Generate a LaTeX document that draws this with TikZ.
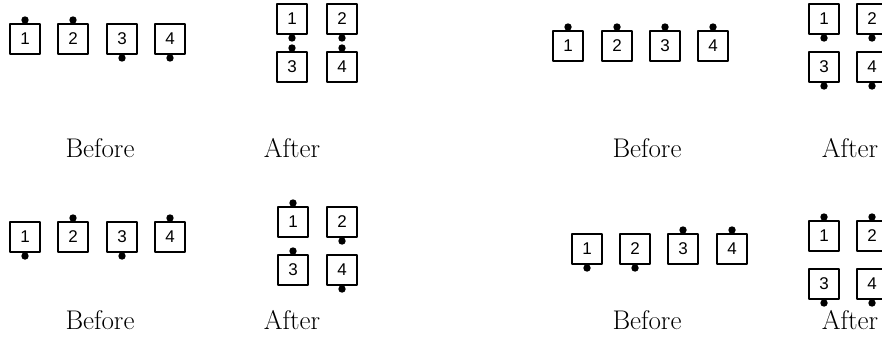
\documentclass[tikz,border=0pt]{standalone}
\usepackage{fontspec}
\newfontfamily\digitfont{Liberation Sans}
\tikzset{
  every picture/.style={line join=round, line cap=round},
  unit/.style={draw, line width=2pt, minimum size=30pt, inner sep=0pt, font=\digitfont\fontsize{17}{17}\selectfont},
  caption/.style={font=\fontsize{27}{32}\selectfont},
  pin/.style={fill=black},
}

\begin{document}
\begin{tikzpicture}[x=1pt,y=-1pt]
\useasboundingbox (0,0) rectangle (882,354);
% top left
\foreach \n/\x/\y/\s/\o in {1/25/39/north/-3,2/73/39/north/-3,3/122/39/south/3,4/170/39/south/3}{
  \node[unit] (ab\n) at (\x,\y) {\n};
  \fill[pin] (ab\n.\s) ++(0,\o) circle (3.7);
}
\foreach \n/\x/\y/\s/\o in {1/292/19/south/3,2/342/19/south/3,3/292/67/north/-3,4/342/67/north/-3}{
  \node[unit] (aa\n) at (\x,\y) {\n};
  \fill[pin] (aa\n.\s) ++(0,\o) circle (3.7);
}
\node[caption] (abcap) at (100,148) {Before};
\node[caption] (aacap) at (292,148) {After};
% top right
\foreach \n/\x/\y/\s/\o in {1/568/46/north/-3,2/617/46/north/-3,3/665/46/north/-3,4/713/46/north/-3}{
  \node[unit] (bb\n) at (\x,\y) {\n};
  \fill[pin] (bb\n.\s) ++(0,\o) circle (3.7);
}
\foreach \n/\x/\y/\s/\o in {1/824/19/south/3,2/872/19/south/3,3/824/67/south/3,4/872/67/south/3}{
  \node[unit] (ba\n) at (\x,\y) {\n};
  \fill[pin] (ba\n.\s) ++(0,\o) circle (3.7);
}
\node[caption] (bbcap) at (647,148) {Before};
\node[caption] (bacap) at (850,148) {After};
% bottom left
\foreach \n/\x/\y/\s/\o in {1/25/237/south/3,2/73/237/north/-3,3/122/237/south/3,4/170/237/north/-3}{
  \node[unit] (cb\n) at (\x,\y) {\n};
  \fill[pin] (cb\n.\s) ++(0,\o) circle (3.7);
}
\foreach \n/\x/\y/\s/\o in {1/293/222/north/-3,2/342/222/south/3,3/293/270/north/-3,4/342/270/south/3}{
  \node[unit] (ca\n) at (\x,\y) {\n};
  \fill[pin] (ca\n.\s) ++(0,\o) circle (3.7);
}
\node[caption] (cbcap) at (100,320) {Before};
\node[caption] (cacap) at (292,320) {After};
% bottom right
\foreach \n/\x/\y/\s/\o in {1/587/249/south/3,2/635/249/south/3,3/683/249/north/-3,4/732/249/north/-3}{
  \node[unit] (db\n) at (\x,\y) {\n};
  \fill[pin] (db\n.\s) ++(0,\o) circle (3.7);
}
\foreach \n/\x/\y/\s/\o in {1/824/236/north/-3,2/872/236/north/-3,3/824/284/south/3,4/872/284/south/3}{
  \node[unit] (da\n) at (\x,\y) {\n};
  \fill[pin] (da\n.\s) ++(0,\o) circle (3.7);
}
\node[caption] (dbcap) at (647,320) {Before};
\node[caption] (dacap) at (850,320) {After};
\end{tikzpicture}
\end{document}
